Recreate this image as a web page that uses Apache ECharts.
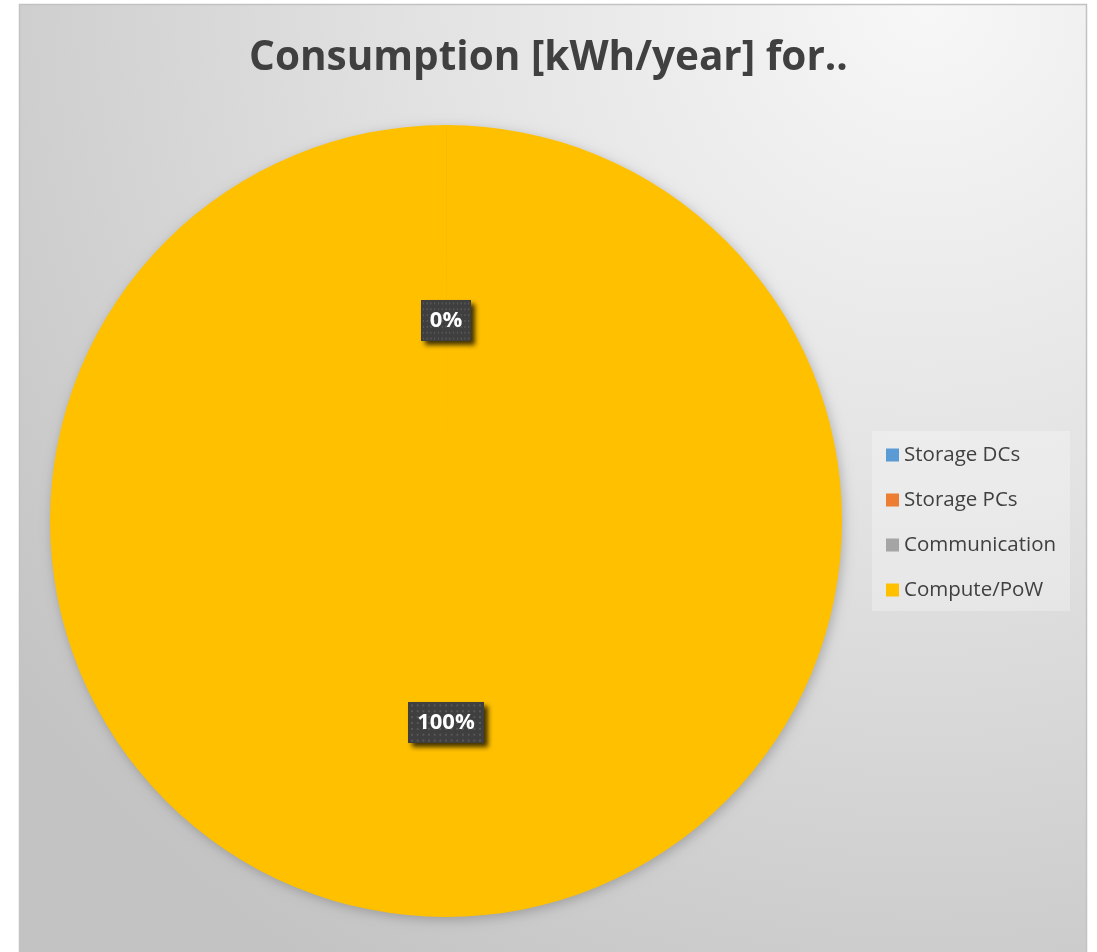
<!DOCTYPE html>
<html>
<head>
<meta charset="utf-8">
<style>
  html, body { margin: 0; padding: 0; background: #ffffff; }
  #chart { width: 1097px; height: 952px; }
</style>
<script src="https://cdn.jsdelivr.net/npm/echarts@6/dist/echarts.min.js"></script>
</head>
<body>
<div id="chart"></div>
<script>
// Annual energy consumption split by category (kWh/year)
const categories = ['Storage DCs', 'Storage PCs', 'Communication', 'Compute/PoW'];
const consumption = [2.0e6, 1.5e6, 3.0e6, 1.3e11];
const colors = ['#5B9BD5', '#ED7D31', '#A5A5A5', '#FFC000'];
const titleText = 'Consumption [kWh/year] for..';

const total = consumption.reduce((a, b) => a + b, 0);
const mainColor = colors[colors.length - 1];

// Dark label plate with a faint dotted texture
function dottedPlate(w, h) {
  const c = document.createElement('canvas');
  c.width = w; c.height = h;
  const g = c.getContext('2d');
  g.fillStyle = '#3f3f3f';
  g.fillRect(0, 0, w, h);
  g.fillStyle = '#585858';
  for (let y = 3; y < h; y += 6) {
    for (let x = (y / 6) % 2 ? 3 : 0; x < w; x += 6) {
      g.fillRect(x, y, 2, 2);
    }
  }
  return c;
}

const chart = echarts.init(document.getElementById('chart'), null, { renderer: 'canvas' });

const FONT = '"Open Sans", "Noto Sans", sans-serif';

chart.setOption({
  animation: false,
  graphic: [
    {
      type: 'rect',
      z: -10,
      shape: { x: 19.5, y: 4.5, width: 1067, height: 990 },
      style: {
        fill: {
          type: 'radial', x: 0.85, y: 0.0, r: 1.15,
          colorStops: [
            { offset: 0, color: '#f7f7f7' },
            { offset: 0.45, color: '#e2e2e2' },
            { offset: 1, color: '#c3c3c3' }
          ]
        },
        stroke: '#c2c2c2',
        lineWidth: 1.5
      }
    },
    {
      type: 'rect',
      z: -5,
      shape: { x: 872, y: 431, width: 198, height: 180 },
      style: { fill: 'rgba(255,255,255,0.28)' }
    }
  ],
  title: {
    text: titleText,
    left: 'center',
    top: 33,
    textStyle: { fontFamily: FONT, fontSize: 40.5, fontWeight: 'bold', color: '#404040' }
  },
  legend: {
    orient: 'vertical',
    left: 886,
    top: 444,
    padding: 0,
    itemWidth: 13,
    itemHeight: 13,
    itemGap: 23,
    icon: 'rect',
    itemStyle: { borderWidth: 0 },
    data: categories,
    textStyle: { fontFamily: FONT, fontSize: 20.5, color: '#404040', lineHeight: 22 }
  },
  series: [{
    type: 'pie',
    center: [446, 521],
    radius: [0, 396],
    startAngle: 90,
    clockwise: true,
    avoidLabelOverlap: false,
    labelLayout: { hideOverlap: true },
    itemStyle: {
      borderWidth: 0,
      shadowBlur: 12,
      shadowColor: 'rgba(0,0,0,0.22)',
      shadowOffsetX: 2,
      shadowOffsetY: 3
    },
    emphasis: { disabled: true },
    label: {
      show: true,
      position: 'inside',
      formatter: p => '{v|' + Math.round(p.value / total * 100) + '%}',
      rich: {
        v: {
          fontFamily: FONT,
          fontSize: 22,
          fontWeight: 'bold',
          color: '#ffffff',
          lineHeight: 26
        }
      },
      padding: [8, 9, 7, 9],
      backgroundColor: { image: dottedPlate(80, 42) },
      shadowColor: 'rgba(0,0,0,0.75)',
      shadowBlur: 5,
      shadowOffsetX: 4,
      shadowOffsetY: 4
    },
    labelLine: { show: false },
    data: categories.map((name, i) => {
      const tiny = i < categories.length - 1;
      return {
        name: name,
        value: consumption[i],
        itemStyle: tiny
          ? { color: colors[i], borderColor: mainColor, borderWidth: 1, shadowBlur: 0, shadowOffsetX: 0, shadowOffsetY: 0, shadowColor: 'transparent' }
          : { color: colors[i] }
      };
    })
  }]
});
</script>
</body>
</html>
